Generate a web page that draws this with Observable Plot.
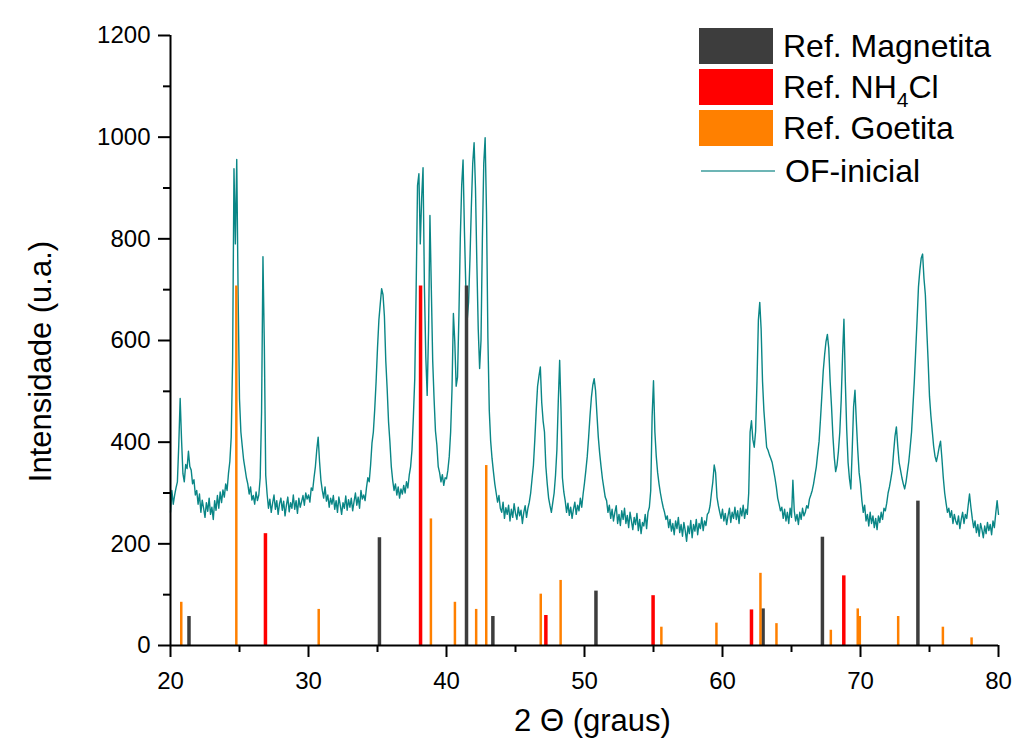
<!DOCTYPE html>
<html>
<head>
<meta charset="utf-8">
<script src="https://cdn.jsdelivr.net/npm/d3@7"></script>
<script src="https://cdn.jsdelivr.net/npm/@observablehq/plot@0.6"></script>
<style>
  html, body { margin: 0; padding: 0; background: #ffffff; }
  #wrap { position: relative; width: 1025px; height: 745px; font-family: "Liberation Sans", Arial, sans-serif; }
  #legend { position: absolute; left: 699px; top: 28px; color: #000; font-size: 32px; }
  .row { position: absolute; left: 0; display: flex; align-items: center; white-space: nowrap; }
  .sw { width: 74px; height: 36px; }
  .ln { width: 74px; height: 2px; background: #6db5b5; margin-left: 2px; }
  .lbl { margin-left: 10px; line-height: 36px; }
  sub { font-size: 21px; vertical-align: -9px; line-height: 0; }
</style>
</head>
<body>
<div id="wrap"></div>
<script>
// ---- Axis ticks ----
const xTicks = [20, 30, 40, 50, 60, 70, 80];
const xMinor = [25, 35, 45, 55, 65, 75];
const yTicks = [0, 200, 400, 600, 800, 1000, 1200];
const yMinor = [100, 300, 500, 700, 900, 1100];

// ---- Reference patterns (2θ, intensity) ----
const magnetitaPos = [21.34, 35.14, 41.45, 43.36, 50.83, 62.94, 67.24, 74.16];
const magnetitaInt = [57, 212, 707, 57, 107, 72, 213, 284];

const nh4clPos = [26.88, 38.12, 47.20, 54.97, 62.10, 68.79];
const nh4clInt = [220, 707, 59, 98, 70, 137];

const goetitaPos = [20.78, 24.77, 30.74, 38.87, 40.61, 42.15, 42.88, 46.83, 48.27, 55.57, 59.56, 62.75, 63.91, 67.85, 69.80, 69.95, 72.73, 75.97, 78.05];
const goetitaInt = [85, 707, 71, 249, 85, 71, 354, 101, 128, 36, 44, 142, 43, 30, 72, 57, 57, 36, 15];

// ---- Measured pattern OF-inicial: 2θ from 20 to 80 in steps of 0.1 ----
const ofStart = 20, ofStep = 0.1;
const ofInicial = [
  262, 305, 278, 296, 310, 322, 395, 486, 405, 338,
  322, 356, 348, 382, 352, 345, 318, 326, 296, 305,
  278, 298, 262, 286, 270, 252, 281, 264, 290, 258,
  272, 248, 285, 266, 295, 270, 302, 281, 306, 292,
  318, 305, 338, 362, 410, 560, 938, 790, 956, 690,
  485, 420, 392, 365, 348, 330, 318, 298, 312, 286,
  295, 278, 302, 285, 296, 330, 460, 765, 590, 335,
  298, 270, 288, 262, 280, 296, 268, 285, 258, 279,
  290, 266, 284, 255, 276, 292, 263, 281, 270, 296,
  268, 285, 260, 290, 272, 283, 295, 276, 300, 288,
  296, 282, 310, 305, 330, 352, 385, 410, 362, 325,
  305, 290, 312, 284, 296, 272, 290, 278, 295, 268,
  285, 262, 292, 276, 258, 281, 270, 294, 266, 287,
  272, 290, 265, 283, 300, 276, 292, 270, 305, 288,
  296, 285, 310, 330, 322, 355, 398, 420, 465, 520,
  585, 640, 672, 702, 690, 648, 560, 505, 440, 400,
  352, 325, 305, 318, 296, 312, 290, 308, 298, 315,
  300, 322, 310, 335, 352, 385, 450, 525, 700, 905,
  928, 790, 880, 940, 705, 568, 492, 620, 846, 702,
  560, 485, 422, 395, 352, 340, 322, 336, 315, 330,
  328, 345, 372, 420, 505, 653, 598, 510, 528, 650,
  800, 905, 955, 815, 705, 640, 676, 760, 862, 948,
  989, 900, 752, 622, 545, 600, 800, 948, 999, 850,
  605, 462, 402, 368, 342, 318, 300, 282, 295, 270,
  262, 282, 250, 271, 258, 276, 245, 268, 252, 279,
  260, 248, 272, 255, 266, 240, 262, 275, 252, 270,
  282, 300, 328, 355, 405, 462, 510, 530, 548, 478,
  442, 420, 352, 318, 290, 275, 262, 281, 300, 335,
  385, 480, 561, 462, 330, 302, 285, 262, 280, 256,
  272, 250, 268, 282, 258, 276, 265, 290, 272, 298,
  320, 345, 372, 410, 452, 488, 512, 525, 502, 455,
  410, 378, 352, 328, 310, 292, 285, 262, 276, 250,
  268, 245, 262, 275, 240, 258, 236, 265, 248, 270,
  240, 256, 232, 262, 245, 228, 252, 238, 260, 226,
  248, 220, 242, 235, 258, 230, 262, 272, 305, 450,
  521, 420, 372, 340, 318, 300, 285, 272, 262, 248,
  255, 232, 248, 225, 240, 218, 245, 230, 252, 222,
  238, 215, 242, 226, 205, 235, 220, 246, 212, 238,
  225, 248, 218, 240, 230, 252, 226, 245, 236, 258,
  262, 275, 300, 322, 355, 340, 292, 275, 262, 250,
  268, 245, 260, 238, 255, 270, 242, 262, 250, 272,
  248, 265, 240, 270, 255, 276, 250, 268, 258, 300,
  420, 442, 405, 390, 422, 520, 640, 675, 622, 520,
  462, 425, 390, 384, 375, 368, 360, 345, 330, 312,
  290, 278, 265, 272, 250, 268, 245, 262, 240, 270,
  252, 325, 265, 245, 258, 238, 262, 248, 270, 255,
  262, 275, 270, 288, 296, 305, 318, 335, 352, 378,
  402, 445, 492, 540, 572, 598, 612, 585, 520, 470,
  412, 370, 342, 355, 382, 420, 482, 570, 642, 520,
  425, 360, 328, 308, 385, 470, 502, 440, 385, 340,
  318, 285, 262, 276, 245, 258, 235, 262, 240, 255,
  232, 250, 228, 255, 242, 262, 248, 270, 265, 280,
  300, 312, 328, 345, 380, 412, 430, 392, 360, 345,
  330, 318, 308, 322, 342, 362, 390, 420, 470, 520,
  580, 640, 705, 738, 762, 770, 722, 690, 622, 560,
  490, 452, 422, 392, 372, 362, 375, 390, 402, 368,
  330, 300, 280, 262, 270, 252, 265, 240, 258, 245,
  238, 255, 230, 248, 262, 240, 258, 250, 275, 298,
  272, 250, 232, 245, 222, 238, 215, 240, 228, 212,
  235, 220, 242, 226, 238, 218, 245, 232, 260, 285,
  258
];

const colors = { magnetita: "#3d3d3d", nh4cl: "#ff0000", goetita: "#ff8000", line: "#0a8686" };

const toRows = (pos, ints) => pos.map((x, i) => ({ x, y: ints[i] }));
const magnetita = toRows(magnetitaPos, magnetitaInt);
const nh4cl = toRows(nh4clPos, nh4clInt);
const goetita = toRows(goetitaPos, goetitaInt);
const ofData = ofInicial.map((y, i) => ({ x: +(ofStart + i * ofStep).toFixed(2), y }));

const chart = Plot.plot({
  width: 1025,
  height: 745,
  marginLeft: 170,
  marginRight: 27,
  marginTop: 35,
  marginBottom: 100,
  style: { fontFamily: "'Liberation Sans', Arial, sans-serif", fontSize: "24px", background: "#ffffff", color: "#000" },
  x: { domain: [20, 80] },
  y: { domain: [0, 1200] },
  marks: [
    Plot.line(ofData, { x: "x", y: "y", stroke: colors.line, strokeWidth: 1.4 }),
    Plot.ruleX(magnetita, { x: "x", y1: 0, y2: "y", stroke: colors.magnetita, strokeWidth: 3.5 }),
    Plot.ruleX(nh4cl, { x: "x", y1: 0, y2: "y", stroke: colors.nh4cl, strokeWidth: 3.5 }),
    Plot.ruleX(goetita, { x: "x", y1: 0, y2: "y", stroke: colors.goetita, strokeWidth: 2.5 }),
    Plot.axisY({ ticks: yMinor, tickSize: 7, strokeWidth: 2, tickFormat: () => "", label: null }),
    Plot.axisY({ ticks: yTicks, tickSize: 12, tickPadding: 8, strokeWidth: 2, label: null, fontSize: 24, tickFormat: d => String(d) }),
    Plot.axisX({ ticks: xMinor, tickSize: 7, strokeWidth: 2, tickFormat: () => "", label: null }),
    Plot.axisX({ ticks: xTicks, tickSize: 12, tickPadding: 14, strokeWidth: 2, label: null, fontSize: 24, tickFormat: d => String(d) }),
    Plot.ruleX([20], { y1: 0, y2: 1200, stroke: "#000", strokeWidth: 2 }),
    Plot.ruleY([0], { x1: 20, x2: 80, stroke: "#000", strokeWidth: 2 }),
    Plot.text(["2 \u0398 (graus)"], { frameAnchor: "bottom", dy: 76, dx: 8, fontSize: 31, lineAnchor: "middle", textAnchor: "middle" }),
    Plot.text(["Intensidade (u.a.)"], { frameAnchor: "left", rotate: -90, dx: -129, dy: 21, fontSize: 31, lineAnchor: "middle", textAnchor: "middle" })
  ]
});

const wrap = document.getElementById("wrap");
wrap.appendChild(chart);

const legendItems = [
  { html: "Ref. Magnetita", color: colors.magnetita, type: "sw" },
  { html: "Ref. NH<sub>4</sub>Cl", color: colors.nh4cl, type: "sw" },
  { html: "Ref. Goetita", color: colors.goetita, type: "sw" },
  { html: "OF-inicial", color: colors.line, type: "ln" }
];
const legendTops = [0, 41, 82, 125];
const legend = document.createElement("div");
legend.id = "legend";
legendItems.forEach((it, i) => {
  const row = document.createElement("div");
  row.className = "row";
  row.style.top = legendTops[i] + "px";
  const mk = document.createElement("div");
  mk.className = it.type;
  if (it.type === "sw") mk.style.background = it.color;
  const lb = document.createElement("div");
  lb.className = "lbl";
  lb.innerHTML = it.html;
  row.appendChild(mk);
  row.appendChild(lb);
  legend.appendChild(row);
});
wrap.appendChild(legend);
</script>
</body>
</html>
